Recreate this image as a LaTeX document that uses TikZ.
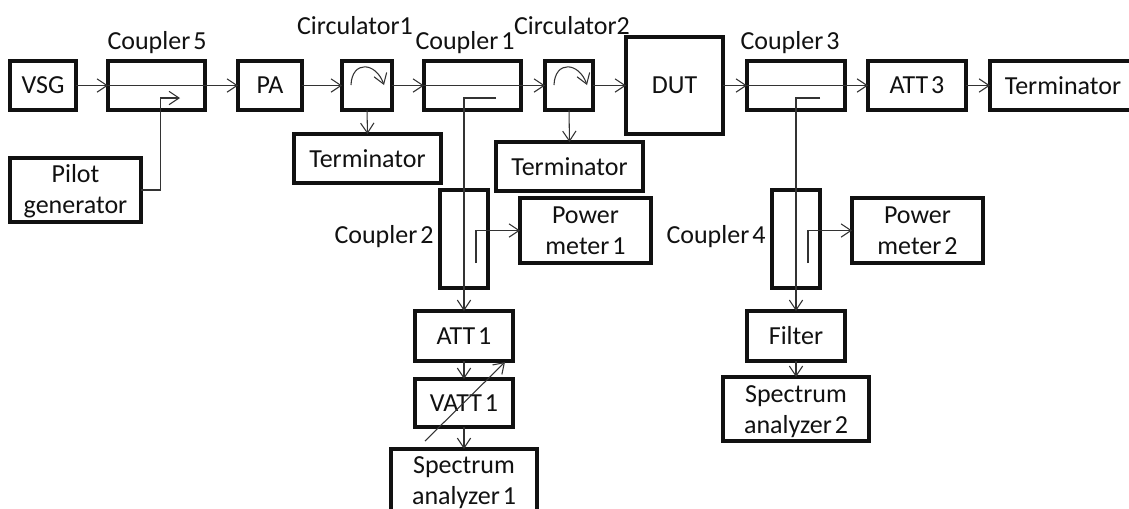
\documentclass[tikz,border=0pt]{standalone}
\usepackage{fontspec}
\setmainfont[WordSpace=0.5]{Carlito}
\usetikzlibrary{arrows.meta}
\definecolor{ink}{HTML}{111111}
\definecolor{wire}{HTML}{333333}
\tikzset{
  block/.style={draw=ink,line width=2.4pt,inner sep=0pt,outer sep=0pt,align=center,font=\fontsize{19.5}{23.25}\selectfont,text=ink},
  caption/.style={inner sep=0pt,align=center,font=\fontsize{19.5}{23.25}\selectfont,text=ink},
  wirearrow/.style={draw=wire,line width=0.8pt,-{Straight Barb[length=7.5pt,width=10pt,line width=0.8pt]}}
}
\newcommand{\bx}[6]{\node[block,minimum width={(#4-#2)*0.75pt},minimum height={(#5-#3)*0.75pt}] (#1) at ({(#2+#4)/2},{(#3+#5)/2}) {#6};}
\newcommand{\lbl}[4]{\node[caption] (#1) at (#2,#3) {#4};}
\begin{document}
\begin{tikzpicture}[x=0.75pt,y=-0.75pt]
\clip (0,0) rectangle (1129,508);
\fill[white] (0,0) rectangle (1129,508);
% blocks
\bx{vsg}{10}{61}{76}{110}{VSG}
\bx{cfive}{108}{61}{205}{110}{}
\bx{pa}{238}{61}{302}{110}{PA}
\bx{cirone}{342}{61}{392}{110}{}
\bx{cone}{424}{61}{521}{110}{}
\bx{cirtwo}{545}{61}{593}{110}{}
\bx{dut}{626}{37}{723}{134}{DUT}
\bx{cthree}{747}{61}{845}{110}{}
\bx{attthree}{868}{61}{966}{110}{ATT 3}
\bx{termthree}{990}{61}{1136}{110}{Terminator}
\bx{pilot}{10}{158}{141}{222}{\rule{0pt}{16pt}Pilot\\generator}
\bx{termone}{294}{134}{441}{183}{Terminator}
\bx{termtwo}{496}{142}{643}{191}{Terminator}
\bx{ctwo}{440}{190}{488}{288}{}
\bx{pmone}{520}{198}{651}{263}{Power\\meter 1}
\bx{attone}{415}{311}{513}{361}{ATT 1}
\bx{vattone}{415}{379}{513}{427}{VATT 1}
% spectrum analyzer 1 runs off the bottom of the picture: outline open at the edge
\node[inner sep=0pt,outer sep=0pt,minimum width=109.5pt,minimum height=44.25pt] (saone) at (464,478.5) {};
\draw[draw=ink,line width=2.4pt] ([yshift=-3pt]saone.south west) |- (saone.north east) -- ([yshift=-3pt]saone.south east);
\lbl{saonetext}{464}{482.5}{Spectrum\\analyzer 1}
\bx{cfour}{772}{190}{820}{288}{}
\bx{pmtwo}{852}{198}{983}{263}{Power\\meter 2}
\bx{filter}{747}{311}{845}{361}{Filter}
\bx{satwo}{723}{377}{869}{441}{\rule{0pt}{16pt}Spectrum\\analyzer 2}
% captions
\lbl{lcfive}{157}{43}{Coupler 5}
\lbl{lcirone}{355}{26}{Circulator1}
\lbl{lcone}{465}{43}{Coupler 1}
\lbl{lcirtwo}{572}{26}{Circulator2}
\lbl{lcthree}{790}{43}{Coupler 3}
\lbl{lctwo}{384}{236.5}{Coupler 2}
\lbl{lcfour}{716}{236.5}{Coupler 4}
% free ends
\coordinate (cfivein) at (180,98);
\coordinate (cfivebend) at (160.7,98);
\coordinate (conetap) at (496,98);
\coordinate (cthreetap) at (820,98);
\coordinate (ctwotap) at (476,263);
\coordinate (cfourtap) at (808,263);
\coordinate (varstart) at (425,441);
\coordinate (varend) at (505,362);
% main line
\draw[wirearrow] (vsg.east) -- (cfive.west);
\draw[wirearrow] (cfive.west) -- (pa.west);
\draw[wirearrow] (pa.east) -- (cirone.west);
\draw[wirearrow] (cirone.east) -- (cone.west);
\draw[wirearrow] (cone.west) -- (cirtwo.west);
\draw[wirearrow] (cirtwo.east) -- (cirtwo.east -| dut.west);
\draw[wirearrow] (cthree.west -| dut.east) -- (cthree.west);
\draw[wirearrow] (cthree.west) -- (attthree.west);
\draw[wirearrow] (attthree.east) -- (termthree.west);
\draw[wirearrow] (cirone.south) -- (termone.north);
\draw[wirearrow] (cirtwo.south) -- (termtwo.north);
% pilot injection
\draw[wirearrow] (pilot.east) -| (cfivebend) -- (cfivein);
% coupled paths
\draw[wirearrow] (conetap) -| (attone.north);
\draw[wirearrow] (attone.south) -- (vattone.north);
\draw[wirearrow] (vattone.south) -- (saone.north);
\draw[wirearrow] (cthreetap) -| (filter.north);
\draw[wirearrow] (filter.south) -- (satwo.north);
\draw[wirearrow] (ctwotap) |- (pmone.west);
\draw[wirearrow] (cfourtap) |- (pmtwo.west);
% variable attenuator arrow
\draw[wirearrow] (varstart) -- (varend);
% circulator symbols
\draw[wirearrow] (351,85) .. controls (352,60) and (376,62) .. (384,85);
\draw[wirearrow] (554,85) .. controls (555,60) and (579,62) .. (587,85);
\end{tikzpicture}
\end{document}
